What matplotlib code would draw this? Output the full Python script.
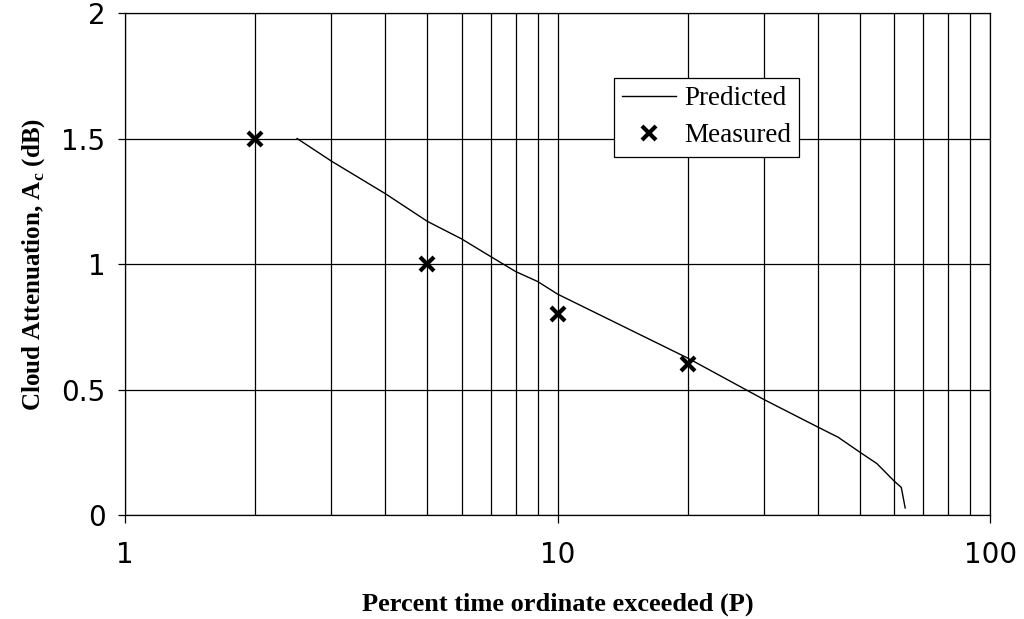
import numpy as np
import matplotlib
matplotlib.use("Agg")
from matplotlib import pyplot as plt
from matplotlib.ticker import FixedLocator, NullFormatter

# curva predicha
pred_p = [2.5, 3, 4, 5, 6, 7, 8, 9, 10, 20, 30, 40, 44.5, 50, 54.7, 60, 62.3, 63.6]
pred_a = [1.5, 1.41, 1.28, 1.17, 1.10, 1.03, 0.97, 0.93, 0.88, 0.625, 0.46, 0.35, 0.31, 0.25, 0.205, 0.135, 0.11, 0.028]

# puntos medidos
meas_p = [2, 5, 10, 20]
meas_a = [1.5, 1.0, 0.8, 0.6]

y_ticks = [0, 0.5, 1, 1.5, 2]
y_labels = ["0", "0.5", "1", "1.5", "2"]
x_ticks = [1, 10, 100]
x_labels = ["1", "10", "100"]

plt.rcParams['mathtext.fontset'] = 'custom'
plt.rcParams['mathtext.rm'] = 'Liberation Serif:bold'

fig = plt.figure(figsize=(10.24, 6.19), dpi=100)
ax = fig.add_axes([0.122, 0.168, 0.845, 0.811])

ax.plot(pred_p, pred_a, color='black', lw=1.0, label='Predicted', zorder=3)
ax.plot(meas_p, meas_a, ls='none', marker='x', color='black', ms=10, mew=3,
        label='Measured', zorder=4)

ax.set_xscale('log')
ax.set_xlim(1, 100)
ax.set_ylim(0, 2)

ax.set_yticks(y_ticks)
ax.set_yticklabels(y_labels)
ax.set_xticks(x_ticks)
ax.set_xticklabels(x_labels)
minors = [m * d for d in (1, 10) for m in range(2, 10)]
ax.xaxis.set_minor_locator(FixedLocator(minors))
ax.xaxis.set_minor_formatter(NullFormatter())

ax.grid(True, which='both', axis='x', color='black', lw=0.9)
ax.grid(True, which='major', axis='y', color='black', lw=0.9)

for s in ax.spines.values():
    s.set_color('black')
    s.set_linewidth(0.9)

ax.tick_params(axis='y', which='major', length=5, width=0.9, pad=9)
ax.tick_params(axis='x', which='major', length=6, width=0.9, pad=13)
ax.tick_params(axis='x', which='minor', length=0)
for lab in ax.get_xticklabels() + ax.get_yticklabels():
    lab.set_fontfamily('DejaVu Sans')
    lab.set_fontsize(20)

ax.set_xlabel('Percent time ordinate exceeded (P)', family='Liberation Serif',
              fontweight='bold', fontsize=19, labelpad=17)
ax.set_ylabel(r'Cloud Attenuation, A$_\mathrm{c}$ (dB)', family='Liberation Serif',
              fontweight='bold', fontsize=18, labelpad=10)

leg = ax.legend(loc='lower left', bbox_to_anchor=(0.565, 0.714), fancybox=False,
                framealpha=1, edgecolor='black', handlelength=2.0,
                handletextpad=0.3, borderpad=0.3, labelspacing=0.45,
                prop={'family': 'Liberation Serif', 'size': 19.5}, borderaxespad=0)
leg.get_frame().set_linewidth(0.9)

fig.savefig('out.png', dpi=100)
